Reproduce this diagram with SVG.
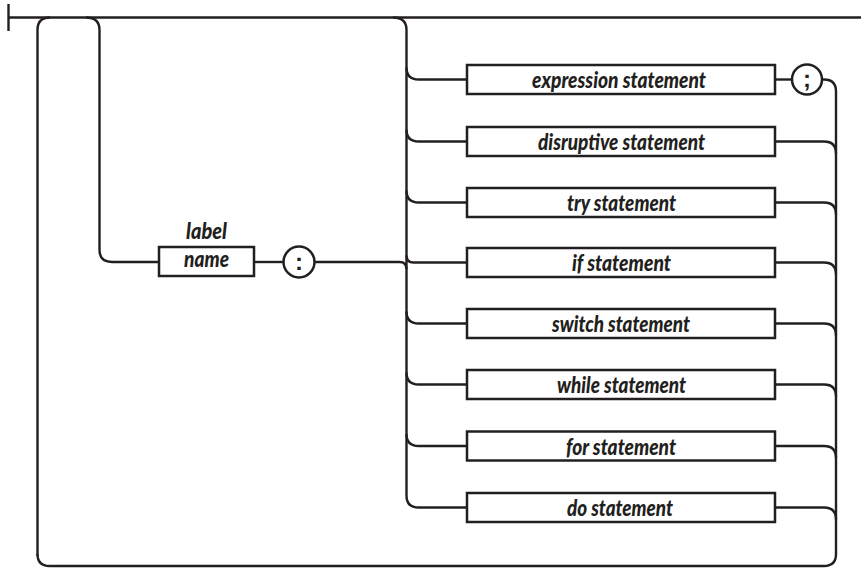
<svg xmlns="http://www.w3.org/2000/svg" width="861" height="568" viewBox="0 0 861 568">
<style>
.ln{fill:none;stroke:#231f20;stroke-width:2.4;stroke-linecap:butt}
.bx{fill:#fff;stroke:#231f20;stroke-width:2.5}
.tx{font-family:Lato,"Open Sans","Liberation Sans",sans-serif;font-weight:900;font-style:italic;font-size:22px;fill:#231f20;text-anchor:middle}
.sym{font-family:"Liberation Sans",sans-serif;font-weight:bold;font-size:24px;fill:#231f20;text-anchor:middle}
</style>
<rect width="861" height="568" fill="#fff"/>
<g id="connectors" class="ln">
<path d="M8.5,4 V31"/>
<path d="M8.5,17.5 H861"/>
<path d="M37.5,556 V30 Q37.5,17.5 50,17.5"/>
<path d="M86,17.5 Q99.5,17.5 99.5,30 V250 Q99.5,262 112,262 H159"/>
<path d="M254,262 H283.5"/>
<path d="M314.5,262 H399.5 Q406.5,262 406.5,269"/>
<path d="M393,17.5 Q406.5,17.5 406.5,30 V495.5 Q406.5,507.5 418.5,507.5 H467"/>
<path d="M406.5,67.5 Q406.5,79.5 418.5,79.5 H467"/>
<path d="M406.5,129.5 Q406.5,141.5 418.5,141.5 H467"/>
<path d="M406.5,190.5 Q406.5,202.5 418.5,202.5 H467"/>
<path d="M406.5,255.5 Q406.5,262.5 413.5,262.5 H467"/>
<path d="M406.5,311.5 Q406.5,323.5 418.5,323.5 H467"/>
<path d="M406.5,372.5 Q406.5,384.5 418.5,384.5 H467"/>
<path d="M406.5,434 Q406.5,446 418.5,446 H467"/>
<path d="M775,79.5 H792"/>
<path d="M822,79.5 H824 Q836,79.5 836,91.5 V554 Q836,566 824,566 H49.5 Q37.5,566 37.5,554"/>
<path d="M775,141.5 H824 Q836,141.5 836,153.5"/>
<path d="M775,202.5 H824 Q836,202.5 836,214.5"/>
<path d="M775,262.5 H824 Q836,262.5 836,274.5"/>
<path d="M775,323.5 H824 Q836,323.5 836,335.5"/>
<path d="M775,384.5 H824 Q836,384.5 836,396.5"/>
<path d="M775,446 H824 Q836,446 836,458"/>
<path d="M775,507.5 H824 Q836,507.5 836,519.5"/>
</g>
<g id="label-name">
<rect class="bx" x="159" y="247" width="95" height="29"/>
<text class="tx" x="206.5" y="239" textLength="41" lengthAdjust="spacingAndGlyphs">label</text>
<text class="tx" x="206.5" y="267" textLength="45" lengthAdjust="spacingAndGlyphs">name</text>
</g>
<g id="colon">
<circle class="bx" cx="299" cy="262" r="15.5"/>
<text class="sym" x="299" y="269.5">:</text>
</g>
<g id="expression-statement">
<rect class="bx" x="467" y="65" width="308" height="29"/>
<text class="tx" x="619" y="87.5" textLength="174" lengthAdjust="spacingAndGlyphs">expression statement</text>
</g>
<g id="semicolon">
<circle class="bx" cx="807" cy="79.5" r="15"/>
<text class="sym" x="807" y="87">;</text>
</g>
<g id="disruptive-statement">
<rect class="bx" x="467" y="127" width="308" height="29"/>
<text class="tx" x="621.5" y="150" textLength="167" lengthAdjust="spacingAndGlyphs">disruptive statement</text>
</g>
<g id="try-statement">
<rect class="bx" x="467" y="188" width="308" height="29"/>
<text class="tx" x="621.5" y="211" textLength="109" lengthAdjust="spacingAndGlyphs">try statement</text>
</g>
<g id="if-statement">
<rect class="bx" x="467" y="248" width="308" height="29"/>
<text class="tx" x="621.5" y="271" textLength="99" lengthAdjust="spacingAndGlyphs">if statement</text>
</g>
<g id="switch-statement">
<rect class="bx" x="467" y="309" width="308" height="29"/>
<text class="tx" x="621" y="332" textLength="138" lengthAdjust="spacingAndGlyphs">switch statement</text>
</g>
<g id="while-statement">
<rect class="bx" x="467" y="370" width="308" height="29"/>
<text class="tx" x="621.5" y="393" textLength="129" lengthAdjust="spacingAndGlyphs">while statement</text>
</g>
<g id="for-statement">
<rect class="bx" x="467" y="431.5" width="308" height="29"/>
<text class="tx" x="621" y="454.5" textLength="110" lengthAdjust="spacingAndGlyphs">for statement</text>
</g>
<g id="do-statement">
<rect class="bx" x="467" y="493" width="308" height="29"/>
<text class="tx" x="620" y="516" textLength="106" lengthAdjust="spacingAndGlyphs">do statement</text>
</g>
</svg>
